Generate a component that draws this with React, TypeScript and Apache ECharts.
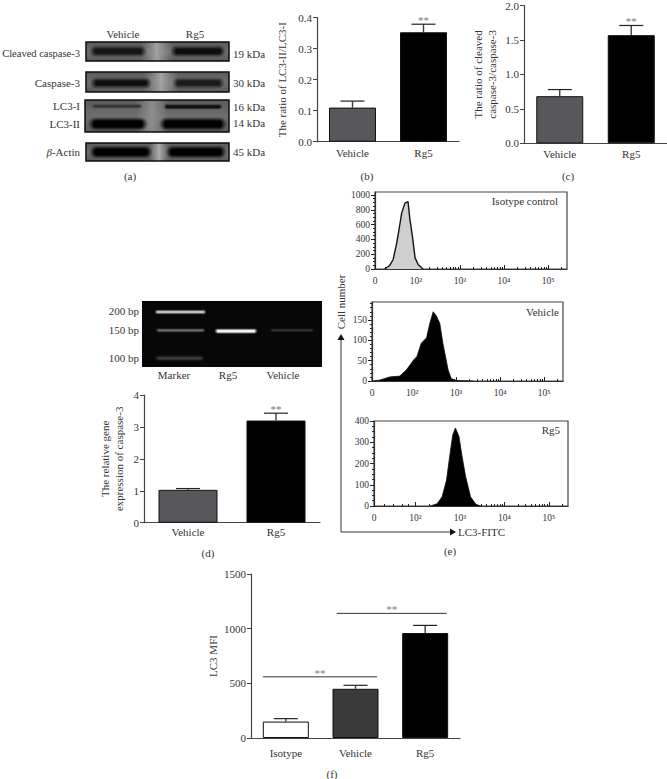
import React, { useEffect, useRef } from "react";
import * as echarts from "echarts";

const FONT = "Liberation Serif";
const INK = "#333";

// bar panels
const groupsTwo = ["Vehicle", "Rg5"];
const ratioLc3 = [0.11, 0.353];
const ratioLc3Err = [0.021, 0.026];
const ratioCaspase = [0.684, 1.57];
const ratioCaspaseErr = [0.096, 0.14];
const geneCaspase = [1.03, 3.2];
const geneCaspaseErr = [0.04, 0.23];
const starsTwo = ["", "**"];
const groupsThree = ["Isotype", "Vehicle", "Rg5"];
const mfi = [150, 450, 960];
const mfiErr = [27, 32, 70];
const sigFrom = [0, 1];
const sigTo = [1, 2];
const sigLevel = [560, 1140];

// flow histograms: log10 fluorescence and cell count
const isoX = [1.29, 1.4, 1.48, 1.555, 1.615, 1.675, 1.75, 1.82, 1.86, 1.92, 1.98, 2.05, 2.16];
const isoY = [0, 45, 125, 327, 530, 755, 890, 910, 685, 440, 150, 60, 0];
const vehX = [1.11, 1.26, 1.49, 1.72, 1.87, 2.04, 2.11, 2.21, 2.33, 2.4, 2.48, 2.55, 2.63, 2.7, 2.76, 2.82, 2.89, 3.01, 3.39];
const vehY = [0, 2, 10, 12, 27, 52, 60, 93, 106, 140, 170, 160, 142, 93, 60, 27, 6, 1, 0];
const rgX = [2.34, 2.49, 2.6, 2.7, 2.77, 2.84, 2.9, 2.98, 3.05, 3.13, 3.24, 3.36, 3.47];
const rgY = [0, 11, 43, 122, 232, 335, 367, 327, 232, 138, 43, 8, 0];
const flowLabels = ["0", "10²", "10³", "10⁴", "10⁵"];
const isoYTicks = [0, 200, 400, 600, 800, 1000];
const vehYTicks = [0, 50, 100, 150];
const rgYTicks = [0, 100, 200, 300, 400];

// blot and gel labels
const blotRows = ["Cleaved caspase-3", "Caspase-3", "LC3-I", "LC3-II"];
const blotSizes = ["19 kDa", "30 kDa", "16 kDa", "14 kDa", "45 kDa"];
const gelSizes = ["200 bp", "150 bp", "100 bp"];
const gelLanes = ["Marker", "Rg5", "Vehicle"];

const minorLog = (x0: number) => {
  const out: number[] = [];
  for (let d = 2; d < 6; d++) {
    for (let k = 2; k < 10; k++) {
      const v = d + Math.log10(k);
      if (v < 5.43) out.push(v);
    }
  }
  [1.3, 1.5, 1.7, 1.85].forEach((v) => out.push(v));
  return out.filter((v) => v > x0);
};
const minorLinear = (max: number, step: number) => {
  const out: number[] = [];
  for (let v = 0; v <= max; v += step) out.push(v);
  return out;
};

const text = (x: number, y: number, t: string, extra: any = {}) => ({
  type: "text",
  x,
  y,
  rotation: extra.rotation || 0,
  style: {
    text: t,
    x: 0,
    y: 0,
    fill: INK,
    font: `${extra.size || 11}px "${FONT}"`,
    align: extra.align || "center",
    verticalAlign: "middle",
    rich: extra.rich,
  },
});

// a soft-edged band: nested rounded bars, translucent outside and solid in the core
const band = (x: number, y: number, w: number, h: number, rgb: string, spread = 3) => {
  const layers = [
    [spread, 0.22],
    [spread * 0.66, 0.3],
    [spread * 0.33, 0.45],
    [0, 1],
  ];
  return layers.map(([s, a]) => ({
    type: "rect",
    shape: { x: x - s * 1.5, y: y - s, width: w + s * 3, height: h + s * 2, r: (h + s * 2) / 2 },
    style: { fill: `rgba(${rgb},${a})` },
  }));
};

const blotFrame = (x: number, y: number, w: number, h: number) => ({
  type: "rect",
  shape: { x, y, width: w, height: h },
  style: {
    fill: new echarts.graphic.LinearGradient(0, 0, 0, 1, [
      { offset: 0, color: "#5a5a5a" },
      { offset: 0.5, color: "#6e6e6e" },
      { offset: 1, color: "#5a5a5a" },
    ]),
  },
});
const blotGap = (x: number, y: number, w: number, h: number, color: string) => ({
  type: "rect",
  shape: { x, y, width: w, height: h },
  style: {
    fill: new echarts.graphic.LinearGradient(0, 0, 1, 0, [
      { offset: 0, color: "rgba(150,150,150,0)" },
      { offset: 0.5, color },
      { offset: 1, color: "rgba(150,150,150,0)" },
    ]),
  },
});
const blotBorder = (x: number, y: number, w: number, h: number) => ({
  type: "rect",
  shape: { x, y, width: w, height: h },
  style: { fill: "none", stroke: "#0c0c0c", lineWidth: 1.5 },
});
const GAP = "rgba(165,165,165,0.95)";

const blots = [
  blotFrame(86, 42, 143, 19),
  blotGap(141, 42, 32, 19, GAP),
  ...band(94, 48.5, 48, 5.5, "22,22,22"),
  ...band(175, 48.5, 46, 5.5, "14,14,14"),
  blotBorder(86, 42, 143, 19),

  blotFrame(86, 72, 143, 20),
  blotGap(143, 72, 36, 20, GAP),
  ...band(95, 80.5, 52, 5, "14,14,14"),
  ...band(177, 80.5, 43, 5, "26,26,26"),
  blotBorder(86, 72, 143, 20),

  blotFrame(85, 100, 144, 32),
  blotGap(136, 100, 32, 32, "rgba(145,145,145,0.9)"),
  ...band(94, 105.5, 46, 1.5, "50,50,50", 1.5),
  ...band(166, 105.5, 54, 2.5, "16,16,16", 1.5),
  ...band(93, 120.5, 50, 7, "0,0,0"),
  ...band(164, 120.5, 58, 7, "0,0,0"),
  blotBorder(85, 100, 144, 32),

  blotFrame(86, 143, 143, 18),
  blotGap(149, 143, 20, 18, "rgba(175,175,175,0.95)"),
  ...band(94, 148.5, 54, 7, "0,0,0"),
  ...band(170, 148.5, 52, 7, "0,0,0"),
  blotBorder(86, 143, 143, 18),
];

const gel = [
  { type: "rect", shape: { x: 142, y: 301, width: 180, height: 66 }, style: { fill: "#070707" } },
  ...band(157, 311.2, 47, 1.6, "205,205,205", 1.5),
  ...band(158, 329.7, 45, 1.2, "110,110,110", 1.5),
  ...band(158, 357.5, 43, 1.5, "62,62,62", 2),
  ...band(217, 330, 38, 2.2, "242,242,242", 1.6),
  ...band(272, 329.7, 40, 1, "52,52,52", 1.5),
];

const annotations = [
  text(123, 34, "Vehicle"),
  text(195, 34, "Rg5"),
  text(80, 53, blotRows[0], { align: "right", size: 10.5 }),
  text(80, 83, blotRows[1], { align: "right" }),
  text(80, 106, blotRows[2], { align: "right" }),
  text(80, 124, blotRows[3], { align: "right" }),
  text(80, 152, "{i|β}-Actin", {
    align: "right",
    rich: { i: { fontStyle: "italic", fontFamily: FONT, fontSize: 11, fill: INK } },
  }),
  ...blotSizes.map((s, i) => text(233, [54, 83, 107, 123, 152][i], s, { align: "left" })),
  text(130, 176, "(a)"),
  text(367, 176, "(b)"),
  text(568, 176, "(c)"),
  ...gelSizes.map((s, i) => text(139, [311, 330, 358][i], s, { align: "right" })),
  ...gelLanes.map((s, i) => text([174, 228, 283][i], 375, s)),
  text(208, 553, "(d)"),
  text(450, 551, "(e)"),
  text(332, 774, "(f)"),
  text(558, 201, "Isotype control", { align: "right" }),
  text(559, 312, "Vehicle", { align: "right" }),
  text(560, 430, "Rg5", { align: "right" }),
  text(341, 302, "Cell number", { rotation: Math.PI / 2 }),
  text(458, 532, "LC3-FITC", { align: "left" }),
  { type: "polyline", shape: { points: [[341, 340], [341, 532], [450, 532]] }, style: { fill: "none", stroke: "#333", lineWidth: 1 } },
  { type: "polygon", shape: { points: [[341, 334], [337.5, 340], [344.5, 340]] }, style: { fill: "#111" } },
  { type: "polygon", shape: { points: [[456, 532], [450, 528.5], [450, 535.5]] }, style: { fill: "#111" } },
];

function errorSeries(xi: number, values: number[], errors: number[], stars: string[]) {
  return {
    type: "custom",
    xAxisIndex: xi,
    yAxisIndex: xi,
    silent: true,
    z: 1,
    clip: false,
    encode: { x: 0, y: 1 },
    data: values.map((v, i) => [i, v, errors[i]]),
    renderItem: (_: any, api: any) => {
      const i = api.value(0);
      const base = api.coord([i, api.value(1)]);
      const top = api.coord([i, api.value(1) + api.value(2)]);
      const stem = { stroke: "#3c3c3c", lineWidth: 1.4 };
      const cap = { stroke: "#222", lineWidth: 1.2 };
      const star = stars[i];
      const kids: any[] = [
        { type: "line", shape: { x1: top[0], y1: base[1], x2: top[0], y2: top[1] }, style: stem },
        { type: "line", shape: { x1: top[0] - 12, y1: top[1], x2: top[0] + 12, y2: top[1] }, style: cap },
      ];
      if (star) {
        kids.push({
          type: "text",
          style: { text: star, x: top[0], y: top[1] - 4, fill: "#777", font: `11px "${FONT}"`, align: "center", verticalAlign: "middle" },
        });
      }
      return { type: "group", children: kids };
    },
  };
}

function sigSeries(xi: number) {
  const offs = [[-0.33, 0.31], [-0.27, 0.31]];
  const styles = [
    { stroke: "#777", lineWidth: 1.6 },
    { stroke: "#333", lineWidth: 1 },
  ];
  return {
    type: "custom",
    xAxisIndex: xi,
    yAxisIndex: xi,
    silent: true,
    clip: false,
    encode: { x: 0, y: 2 },
    data: sigFrom.map((f, i) => [f, sigTo[i], sigLevel[i], i]),
    renderItem: (_: any, api: any) => {
      const k = api.value(3);
      const a = api.coord([api.value(0), api.value(2)]);
      const b = api.coord([api.value(1), api.value(2)]);
      const bw = api.size([1, 0])[0];
      const x1 = a[0] + offs[k][0] * bw;
      const x2 = b[0] + offs[k][1] * bw;
      return {
        type: "group",
        children: [
          { type: "line", shape: { x1, y1: a[1], x2, y2: a[1] }, style: styles[k] },
          {
            type: "text",
            style: { text: "**", x: (x1 + x2) / 2, y: a[1] - 4, fill: "#777", font: `11px "${FONT}"`, align: "center", verticalAlign: "middle" },
          },
        ],
      };
    },
  };
}

const axisLine = { lineStyle: { color: "#444", width: 1.2 } };
const labelBase = { color: INK, fontFamily: FONT, fontSize: 11 };
const plain = (v: number) => String(v);

function buildOption() {
  const grid: any[] = [];
  const xAxis: any[] = [];
  const yAxis: any[] = [];
  const series: any[] = [];

  const barPanel = (p: any) => {
    const g = grid.length;
    grid.push({ left: p.left, top: p.top, width: p.width, height: p.height });
    xAxis.push({
      type: "category",
      gridIndex: g,
      data: p.cats,
      axisLine,
      axisTick: { alignWithLabel: true, length: 4, lineStyle: { color: "#444" } },
      axisLabel: { ...labelBase, margin: p.labelMargin },
    });
    yAxis.push({
      type: "value",
      gridIndex: g,
      min: 0,
      max: p.max,
      interval: p.interval,
      splitLine: { show: false },
      axisLine: { show: true, ...axisLine },
      axisTick: { show: true, length: 4, lineStyle: { color: "#444" } },
      axisLabel: { ...labelBase, margin: 5, formatter: p.fmt || plain },
      name: p.name,
      nameLocation: "middle",
      nameGap: p.nameGap,
      nameTextStyle: { color: INK, fontFamily: FONT, fontSize: 11, lineHeight: 14 },
    });
    series.push({
      type: "bar",
      xAxisIndex: g,
      yAxisIndex: g,
      barWidth: p.barWidth,
      data: p.values.map((v: number, i: number) => ({
        value: v,
        itemStyle: { color: p.colors[i], borderColor: "#111", borderWidth: 1 },
      })),
    });
    series.push(errorSeries(g, p.values, p.errors, p.stars));
    return g;
  };

  const oneDecimal = (v: number) => v.toFixed(1);
  barPanel({ left: 317, top: 17.7, width: 142, height: 124, cats: groupsTwo, values: ratioLc3, errors: ratioLc3Err, stars: starsTwo, max: 0.4, interval: 0.1, fmt: oneDecimal, name: "The ratio of LC3-II/LC3-I", nameGap: 28, barWidth: 47, labelMargin: 6, colors: ["#58585c", "#000"] });
  barPanel({ left: 524, top: 4, width: 143, height: 139.3, cats: groupsTwo, values: ratioCaspase, errors: ratioCaspaseErr, stars: starsTwo, max: 2, interval: 0.5, fmt: oneDecimal, name: "The ratio of cleaved\ncaspase-3/caspase-3", nameGap: 25, barWidth: 47, labelMargin: 5, colors: ["#58585c", "#000"] });
  barPanel({ left: 144, top: 395, width: 176, height: 127.7, cats: groupsTwo, values: geneCaspase, errors: geneCaspaseErr, stars: starsTwo, max: 4, interval: 1, name: "The relative gene\nexpression of caspase-3", nameGap: 18, barWidth: 59, labelMargin: 4, colors: ["#58585c", "#000"] });
  const fg = barPanel({ left: 251, top: 574, width: 209, height: 164, cats: groupsThree, values: mfi, errors: mfiErr, stars: ["", "", ""], max: 1500, interval: 500, name: "LC3 MFI", nameGap: 28, barWidth: 46, labelMargin: 9, colors: ["#fff", "#3a3a3a", "#000"] });
  series.push(sigSeries(fg));

  const flowPanel = (p: any) => {
    const g = grid.length;
    const ax = g * 2 - 4; // flow panels hold two axes per grid after the four bar panels
    grid.push({ left: p.left, top: p.top, width: p.width, height: p.height, show: true, borderColor: "#444", borderWidth: 1.2 });
    const xBase = { type: "value", gridIndex: g, position: "bottom", min: p.xMin, max: 5.43, splitLine: { show: false } };
    const yBase = { type: "value", gridIndex: g, position: "left", min: 0, max: p.yMax, splitLine: { show: false } };
    const majors = [p.xMin, 2, 3, 4, 5];
    xAxis.push({
      ...xBase,
      axisLine: { show: true, lineStyle: { color: "#333", width: 1.2 } },
      axisTick: { show: true, customValues: majors, inside: true, length: 4, lineStyle: { color: "#222" } },
      axisLabel: {
        ...labelBase,
        fontSize: 9.5,
        margin: 7,
        customValues: majors,
        formatter: (v: any) => {
          const n = Number(v);
          return n < 1.5 ? flowLabels[0] : flowLabels[Math.round(n) - 1];
        },
      },
    });
    xAxis.push({
      ...xBase,
      axisLine: { show: false },
      axisTick: { show: true, customValues: minorLog(p.xMin), inside: true, length: 2, lineStyle: { color: "#222" } },
      axisLabel: { show: false },
    });
    yAxis.push({
      ...yBase,
      axisLine: { show: true, lineStyle: { color: "#333", width: 1.2 } },
      axisTick: { show: true, customValues: p.yTicks, length: 4, lineStyle: { color: "#222" } },
      axisLabel: { ...labelBase, fontSize: 9.5, margin: 5, customValues: p.yTicks, formatter: plain },
    });
    yAxis.push({
      ...yBase,
      axisLine: { show: false },
      axisTick: { show: true, customValues: minorLinear(p.yMax, p.yMinor), length: 2, lineStyle: { color: "#222" } },
      axisLabel: { show: false },
    });
    series.push({
      type: "line",
      xAxisIndex: ax,
      yAxisIndex: ax,
      symbol: "none",
      data: p.xs.map((x: number, i: number) => [x, p.ys[i]]),
      lineStyle: { color: "#111", width: p.lineWidth },
      areaStyle: { color: p.fill, opacity: 1 },
    });
  };

  flowPanel({ left: 375, top: 192, width: 192, height: 77, xMin: 1.07, yMax: 1040, yTicks: isoYTicks, yMinor: 50, xs: isoX, ys: isoY, fill: "#cfcfcf", lineWidth: 1.4 });
  flowPanel({ left: 372, top: 302, width: 191, height: 79, xMin: 1.09, yMax: 194, yTicks: vehYTicks, yMinor: 10, xs: vehX, ys: vehY, fill: "#000", lineWidth: 0.8 });
  flowPanel({ left: 374, top: 421, width: 194, height: 85, xMin: 1.07, yMax: 400, yTicks: rgYTicks, yMinor: 25, xs: rgX, ys: rgY, fill: "#000", lineWidth: 0.8 });

  return {
    animation: false,
    backgroundColor: "#fff",
    textStyle: { fontFamily: FONT },
    grid,
    xAxis,
    yAxis,
    series,
    graphic: { elements: [...blots, ...gel, ...annotations] },
  };
}

export default function App() {
  const ref = useRef<HTMLDivElement>(null);
  useEffect(() => {
    const chart = echarts.init(ref.current!, undefined, { renderer: "svg" });
    chart.setOption(buildOption() as any);
    return () => chart.dispose();
  }, []);
  return <div ref={ref} style={{ position: "absolute", left: 0, top: 0, width: 667, height: 779 }} />;
}
